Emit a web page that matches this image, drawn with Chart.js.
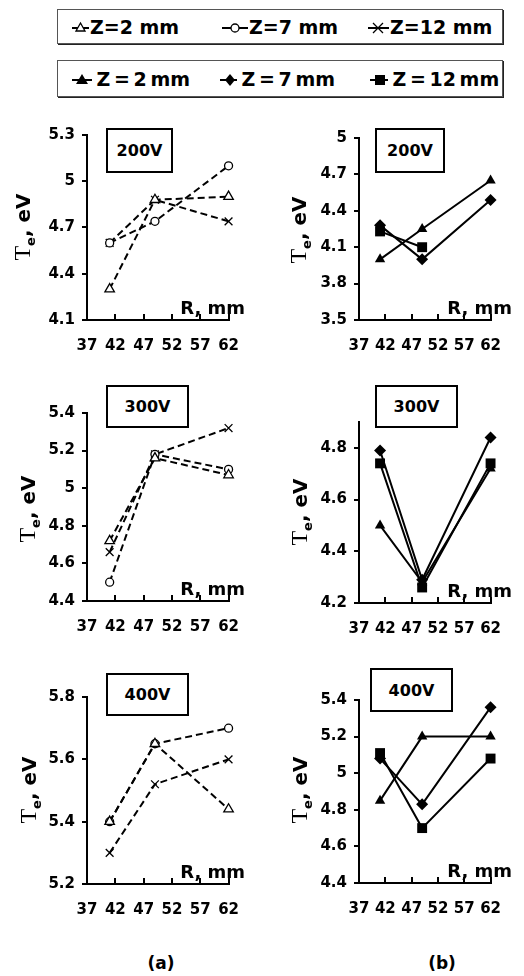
<!DOCTYPE html>
<html>
<head>
<meta charset="utf-8">
<script src="https://cdn.jsdelivr.net/npm/chart.js@4"></script>
<style>
  body { margin: 0; background: #fff; width: 524px; height: 976px; position: relative; overflow: hidden;
         font-family: "DejaVu Sans", sans-serif; font-weight: bold; color: #000; }
  canvas { position: absolute; }
  .legend { position: absolute; left: 57px; width: 444px; border: 1px solid #555; box-shadow: 1px 1px 0 #222; }
  .item { position: absolute; display: flex; align-items: center; font-size: 19px; white-space: nowrap; }
  .item svg { margin-right: 1px; }
  .tight .item { word-spacing: -3px; }
  .vbox { position: absolute; border: 2px solid #000; display: flex; align-items: center; justify-content: center;
          font-size: 16px; box-sizing: border-box; background: #fff; }
  .rlab { position: absolute; font-size: 18px; line-height: 18px; white-space: nowrap; }
  .ytitle { position: absolute; font-size: 20px; white-space: nowrap; transform: translate(-50%, -50%) rotate(-90deg); }
  .ytitle .T { font-family: "Liberation Serif", serif; font-weight: normal; font-size: 24px; }
  .ytitle sub { font-size: 13px; }
  .panel { position: absolute; font-size: 17px; transform: translate(-50%, -50%); }
</style>
</head>
<body>

<div class="legend" style="top:9px;height:33px;">
  <div class="item" style="left:14px;top:6px;">
    <svg width="17" height="14"><line x1="0" y1="8" x2="17" y2="8" stroke="#000" stroke-width="2"/><polygon points="8.5,3 4,11 13,11" fill="#fff" stroke="#000" stroke-width="1.3"/></svg>Z=2 mm</div>
  <div class="item" style="left:164px;top:6px;">
    <svg width="26" height="14"><line x1="0" y1="8" x2="26" y2="8" stroke="#000" stroke-width="2"/><circle cx="13" cy="8" r="4" fill="#fff" stroke="#000" stroke-width="1.3"/></svg>Z=7 mm</div>
  <div class="item" style="left:310px;top:6px;">
    <svg width="21" height="14"><line x1="0" y1="8" x2="21" y2="8" stroke="#000" stroke-width="2"/><path d="M5,3 L15,13 M15,3 L5,13" stroke="#000" stroke-width="1.3"/></svg>Z=12 mm</div>
</div>

<div class="legend tight" style="top:60px;height:35px;">
  <div class="item" style="left:14px;top:7px;">
    <svg width="20" height="14"><line x1="0" y1="8" x2="20" y2="8" stroke="#000" stroke-width="2"/><polygon points="10,2 4,12 16,12" fill="#000"/></svg>&nbsp;Z = 2 mm</div>
  <div class="item" style="left:162px;top:7px;">
    <svg width="17" height="14"><line x1="0" y1="8" x2="17" y2="8" stroke="#000" stroke-width="2"/><polygon points="10,2 15,8 10,14 5,8" fill="#000"/></svg>&nbsp;Z = 7 mm</div>
  <div class="item" style="left:312px;top:7px;">
    <svg width="18" height="14"><line x1="0" y1="8" x2="18" y2="8" stroke="#000" stroke-width="2"/><rect x="5" y="3" width="10" height="10" fill="#000"/></svg>&nbsp;Z = 12 mm</div>
</div>

<canvas id="a200" width="262" height="260" style="left:0;top:100px;"></canvas>
<canvas id="b200" width="262" height="260" style="left:262px;top:100px;"></canvas>
<canvas id="a300" width="262" height="290" style="left:0;top:360px;"></canvas>
<canvas id="b300" width="262" height="290" style="left:262px;top:360px;"></canvas>
<canvas id="a400" width="262" height="270" style="left:0;top:650px;"></canvas>
<canvas id="b400" width="262" height="270" style="left:262px;top:650px;"></canvas>

<div class="vbox" style="left:106px;top:128px;width:67px;height:45px;">200V</div>
<div class="vbox" style="left:375px;top:128px;width:70px;height:45px;">200V</div>
<div class="vbox" style="left:106px;top:385px;width:83px;height:43px;">300V</div>
<div class="vbox" style="left:375px;top:385px;width:83px;height:43px;">300V</div>
<div class="vbox" style="left:106px;top:673px;width:83px;height:43px;">400V</div>
<div class="vbox" style="left:370px;top:668px;width:83px;height:44px;">400V</div>

<div class="rlab" style="right:279px;top:299px;">R, mm</div>
<div class="rlab" style="right:12px;top:299px;">R, mm</div>
<div class="rlab" style="right:279px;top:580px;">R, mm</div>
<div class="rlab" style="right:12px;top:582px;">R, mm</div>
<div class="rlab" style="right:279px;top:863px;">R, mm</div>
<div class="rlab" style="right:12px;top:862px;">R, mm</div>

<div class="ytitle" style="left:23px;top:227px;"><span class="T">T</span><sub>e</sub>, eV</div>
<div class="ytitle" style="left:299px;top:230px;"><span class="T">T</span><sub>e</sub>, eV</div>
<div class="ytitle" style="left:28px;top:509px;"><span class="T">T</span><sub>e</sub>, eV</div>
<div class="ytitle" style="left:300px;top:512px;"><span class="T">T</span><sub>e</sub>, eV</div>
<div class="ytitle" style="left:29px;top:790px;"><span class="T">T</span><sub>e</sub>, eV</div>
<div class="ytitle" style="left:300px;top:790px;"><span class="T">T</span><sub>e</sub>, eV</div>

<div class="panel" style="left:161px;top:963px;">(a)</div>
<div class="panel" style="left:442px;top:963px;">(b)</div>

<script>
// probe positions R, mm
const rValues = [41, 49, 62];
const rTicks = [37, 42, 47, 52, 57, 62];

// (a) dashed, open markers
const a200_z2 = [4.3, 4.88, 4.9];
const a200_z7 = [4.6, 4.74, 5.1];
const a200_z12 = [4.6, 4.88, 4.74];
const a300_z2 = [4.72, 5.16, 5.07];
const a300_z7 = [4.5, 5.18, 5.1];
const a300_z12 = [4.66, 5.18, 5.32];
const a400_z2 = [5.4, 5.65, 5.44];
const a400_z7 = [5.4, 5.65, 5.7];
const a400_z12 = [5.3, 5.52, 5.6];

// (b) solid, filled markers
const b200_z2 = [4.0, 4.25, 4.65];
const b200_z7 = [4.28, 4.0, 4.49];
const b200_z12 = [4.23, 4.1, null];
const b300_z2 = [4.5, 4.28, 4.72];
const b300_z7 = [4.79, 4.29, 4.84];
const b300_z12 = [4.74, 4.26, 4.74];
const b400_z2 = [4.85, 5.2, 5.2];
const b400_z7 = [5.08, 4.83, 5.36];
const b400_z12 = [5.11, 4.7, 5.08];

// y tick labels per panel
const yA200 = [4.1, 4.4, 4.7, 5, 5.3];
const yB200 = [3.5, 3.8, 4.1, 4.4, 4.7, 5];
const yA300 = [4.4, 4.6, 4.8, 5, 5.2, 5.4];
const yB300 = [4.2, 4.4, 4.6, 4.8];
const yA400 = [5.2, 5.4, 5.6, 5.8];
const yB400 = [4.4, 4.6, 4.8, 5, 5.2, 5.4];

const tickFont = { family: 'DejaVu Sans', weight: 'bold', size: 15 };

function pts(vals) {
    return vals.map((v, i) => ({ x: rValues[i], y: v }));
}

function dashedSet(label, vals, style) {
    return {
        label: label,
        data: pts(vals),
        borderColor: '#000',
        borderWidth: 2,
        borderDash: [7, 4],
        pointStyle: style,
        pointRadius: style === 'circle' ? 4 : 5.5,
        pointBorderWidth: 1.3,
        pointBackgroundColor: '#fff',
        pointBorderColor: '#000',
        clip: false
    };
}

function solidSet(label, vals, style) {
    return {
        label: label,
        data: pts(vals),
        borderColor: '#000',
        borderWidth: 2,
        pointStyle: style,
        pointRadius: style === 'rect' ? 7 : 6,
        pointBorderWidth: 0,
        pointBackgroundColor: '#000',
        clip: false,
        spanGaps: false
    };
}

function makeChart(id, datasets, yTicks, yMax, pad, yWidth, xHeight) {
    const ctx = document.getElementById(id);
    const config = {
        type: 'line',
        data: { datasets: datasets },
        options: {
            responsive: false,
            animation: false,
            devicePixelRatio: 1,
            layout: { padding: { top: pad.top, right: pad.right, left: 0, bottom: 0 } },
            plugins: { legend: { display: false }, tooltip: { enabled: false } },
            scales: {
                x: {
                    type: 'linear',
                    min: rTicks[0],
                    max: rTicks[rTicks.length - 1],
                    afterBuildTicks: s => { s.ticks = rTicks.map(v => ({ value: v })); },
                    afterFit: s => { s.height = xHeight; },
                    border: { display: true, color: '#000', width: 2 },
                    grid: { drawOnChartArea: false, drawTicks: true, tickLength: -6, color: '#000', lineWidth: 2 },
                    ticks: { color: '#000', font: tickFont, padding: 23, maxRotation: 0, callback: v => String(v) }
                },
                y: {
                    min: yTicks[0],
                    max: yMax,
                    afterBuildTicks: s => { s.ticks = yTicks.map(v => ({ value: v })); },
                    afterFit: s => { s.width = yWidth; },
                    border: { display: true, color: '#000', width: 2 },
                    grid: { drawOnChartArea: false, drawTicks: true, tickLength: 5, color: '#000', lineWidth: 2 },
                    ticks: { color: '#000', font: tickFont, padding: 7, callback: v => String(v) }
                }
            }
        }
    };
    return new Chart(ctx, config);
}

makeChart('a200', [
    dashedSet('Z=2 mm', a200_z2, 'triangle'),
    dashedSet('Z=7 mm', a200_z7, 'circle'),
    dashedSet('Z=12 mm', a200_z12, 'crossRot')
], yA200, 5.3, { top: 35, right: 15 }, 87, 40);

makeChart('b200', [
    solidSet('Z = 2 mm', b200_z2, 'triangle'),
    solidSet('Z = 7 mm', b200_z7, 'rectRot'),
    solidSet('Z = 12 mm', b200_z12, 'rect')
], yB200, 5, { top: 38, right: 11 }, 97, 40);

makeChart('a300', [
    dashedSet('Z=2 mm', a300_z2, 'triangle'),
    dashedSet('Z=7 mm', a300_z7, 'circle'),
    dashedSet('Z=12 mm', a300_z12, 'crossRot')
], yA300, 5.4, { top: 53, right: 15 }, 87, 49);

makeChart('b300', [
    solidSet('Z = 2 mm', b300_z2, 'triangle'),
    solidSet('Z = 7 mm', b300_z7, 'rectRot'),
    solidSet('Z = 12 mm', b300_z12, 'rect')
], yB300, 4.9, { top: 62, right: 11 }, 97, 47);

makeChart('a400', [
    dashedSet('Z=2 mm', a400_z2, 'triangle'),
    dashedSet('Z=7 mm', a400_z7, 'circle'),
    dashedSet('Z=12 mm', a400_z12, 'crossRot')
], yA400, 5.8, { top: 47, right: 15 }, 87, 36);

makeChart('b400', [
    solidSet('Z = 2 mm', b400_z2, 'triangle'),
    solidSet('Z = 7 mm', b400_z7, 'rectRot'),
    solidSet('Z = 12 mm', b400_z12, 'rect')
], yB400, 5.4, { top: 50, right: 11 }, 97, 37);
</script>
</body>
</html>
